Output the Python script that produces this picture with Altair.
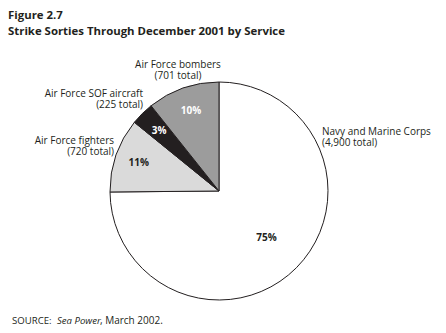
import altair as alt
import pandas as pd

services = ["Navy and Marine Corps", "Air Force fighters", "Air Force SOF aircraft", "Air Force bombers"]
totals = [4900, 720, 225, 701]
percents = ["75%", "11%", "3%", "10%"]
fills = ["#ffffff", "#dadada", "#231f20", "#9c9c9c"]
pct_colors = ["#231f20", "#231f20", "#ffffff", "#ffffff"]

title_lines = ["Figure 2.7", "Strike Sorties Through December 2001 by Service"]
source_parts = ["SOURCE:", "Sea Power", ", March 2002."]

FONT = "Open Sans"
CX, CY, R = 219, 191, 109

df = pd.DataFrame({
    "service": services,
    "total": totals,
    "pct": percents,
    "order": list(range(len(services))),
    "pcolor": pct_colors,
})

base = alt.Chart(df)

theta = alt.Theta("total:Q", stack=True)
order = alt.Order("order:Q")

pie = base.mark_arc(outerRadius=R, stroke="#231f20", strokeWidth=1).encode(
    theta=theta,
    order=order,
    color=alt.Color("service:N", scale=alt.Scale(domain=services, range=fills), legend=None),
    x=alt.value(CX), y=alt.value(CY),
)

pct_small = base.mark_text(radius=85, font=FONT, fontSize=10, fontWeight="bold").encode(
    theta=theta, order=order,
    text="pct:N",
    color=alt.Color("pcolor:N", scale=None),
    opacity=alt.condition(alt.datum.order == 0, alt.value(0), alt.value(1)),
    x=alt.value(CX), y=alt.value(CY),
)
pct_big = base.mark_text(radius=67, font=FONT, fontSize=10, fontWeight="bold").encode(
    theta=theta, order=order,
    text="pct:N",
    color=alt.Color("pcolor:N", scale=None),
    opacity=alt.condition(alt.datum.order == 0, alt.value(1), alt.value(0)),
    x=alt.value(CX), y=alt.value(CY),
)

# (index, align, x, y of first line centre)
label_specs = [
    (0, "left", 322, 132),
    (1, "right", 114, 141),
    (2, "right", 143, 93.5),
    (3, "center", 178, 65),
]

label_layers = []
for idx, align, lx, ly in label_specs:
    lines = [services[idx], f"({totals[idx]:,} total)"]
    label_layers.append(
        base.transform_filter(alt.datum.order == idx).mark_text(
            font=FONT, fontSize=10, align=align, baseline="middle", lineHeight=11, color="#231f20"
        ).encode(text=alt.value(lines), x=alt.value(lx), y=alt.value(ly))
    )

title1 = base.transform_filter(alt.datum.order == 0).mark_text(
    font=FONT, fontSize=11.4, fontWeight="bold", align="left", baseline="middle", color="#231f20"
).encode(text=alt.value(title_lines[0]), x=alt.value(8), y=alt.value(16))
title2 = base.transform_filter(alt.datum.order == 0).mark_text(
    font=FONT, fontSize=11.4, fontWeight="bold", align="left", baseline="middle", color="#231f20"
).encode(text=alt.value(title_lines[1]), x=alt.value(8), y=alt.value(32))

src_specs = [(source_parts[0], "normal", 12, 9.6), (source_parts[1], "italic", 57, 9.6), (source_parts[2], "normal", 100, 10)]
src_layers = []
for txt, style, sx, fs in src_specs:
    src_layers.append(
        base.transform_filter(alt.datum.order == 0).mark_text(
            font=FONT, fontSize=fs, fontStyle=style, align="left", baseline="middle", color="#231f20"
        ).encode(text=alt.value(txt), x=alt.value(sx), y=alt.value(321))
    )

chart = alt.layer(pie, pct_small, pct_big, *label_layers, title1, title2, *src_layers).properties(
    width=446, height=333,
    autosize=alt.AutoSizeParams(type="none"),
    padding=0,
    background="white",
).configure_view(stroke=None)

chart.save("out.html", embed_options={"renderer": "svg", "actions": False})
